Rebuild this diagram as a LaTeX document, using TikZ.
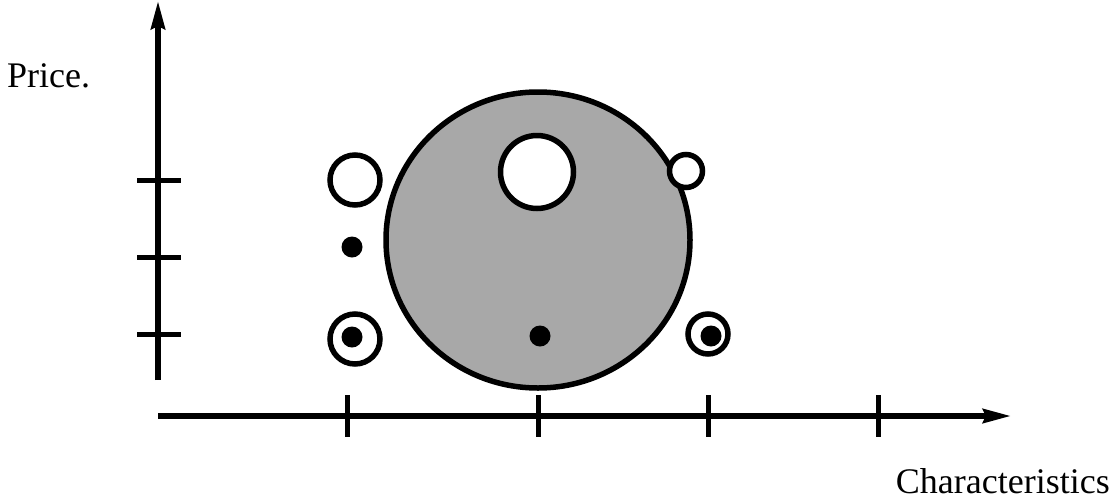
\documentclass[tikz,border=0pt]{standalone}
\usepackage{fontspec}
\setmainfont{Liberation Serif}
\usetikzlibrary{arrows.meta,shapes.geometric}
\definecolor{stipple}{gray}{0.66}

\begin{document}
\begin{tikzpicture}[
    x=1pt,y=-1pt,
    axis/.style={line width=5.5pt,-{Stealth[length=28pt,width=14pt,inset=3pt]}},
    tick/.style={line width=5pt},
    ring/.style={circle,draw,line width=5.5pt,fill=white,inner sep=0pt},
    dot/.style={circle,fill=black,inner sep=0pt,minimum size=21pt},
    lbl/.style={font=\fontsize{36}{40}\selectfont,inner sep=0pt}
]
\useasboundingbox (0,0) rectangle (1114,499);
% axes
\coordinate (origin) at (158,416);
\coordinate (ytop) at (158,1);
\coordinate (ybot) at (158,380);
\coordinate (xend) at (1011,416);
\draw[axis] (ybot)--(ytop);
\draw[axis] (origin)--(xend);
\foreach \t in {347,538,708,878}
  \draw[tick] (\t,395)--(\t,437);
\foreach \t in {180,257,334}
  \draw[tick] (137,\t)--(181,\t);
% labels
\node[lbl,anchor=base west] (price) at (7,87) {Price.};
\node[lbl,anchor=base east] (charac) at (1110,493) {Characteristics};
% shaded region
\node[ring,ellipse,fill=stipple,minimum width=304pt,minimum height=296pt] (area) at (538,240) {};
\node[ring,minimum size=73pt] (hole) at (537,172) {};
\node[dot] (mid) at (540,336) {};
% left column
\node[ring,minimum size=50pt] (lefttop) at (355,180) {};
\node[dot] (leftmid) at (352,247) {};
\node[ring,minimum size=50pt] (leftbot) at (355,339) {};
\node[dot] (leftdot) at (352,337) {};
% right column
\node[ring,minimum size=33pt] (righttop) at (686,171) {};
\node[ring,minimum size=40pt] (rightbot) at (708,334) {};
\node[dot] (rightdot) at (711,336) {};
\end{tikzpicture}
\end{document}
